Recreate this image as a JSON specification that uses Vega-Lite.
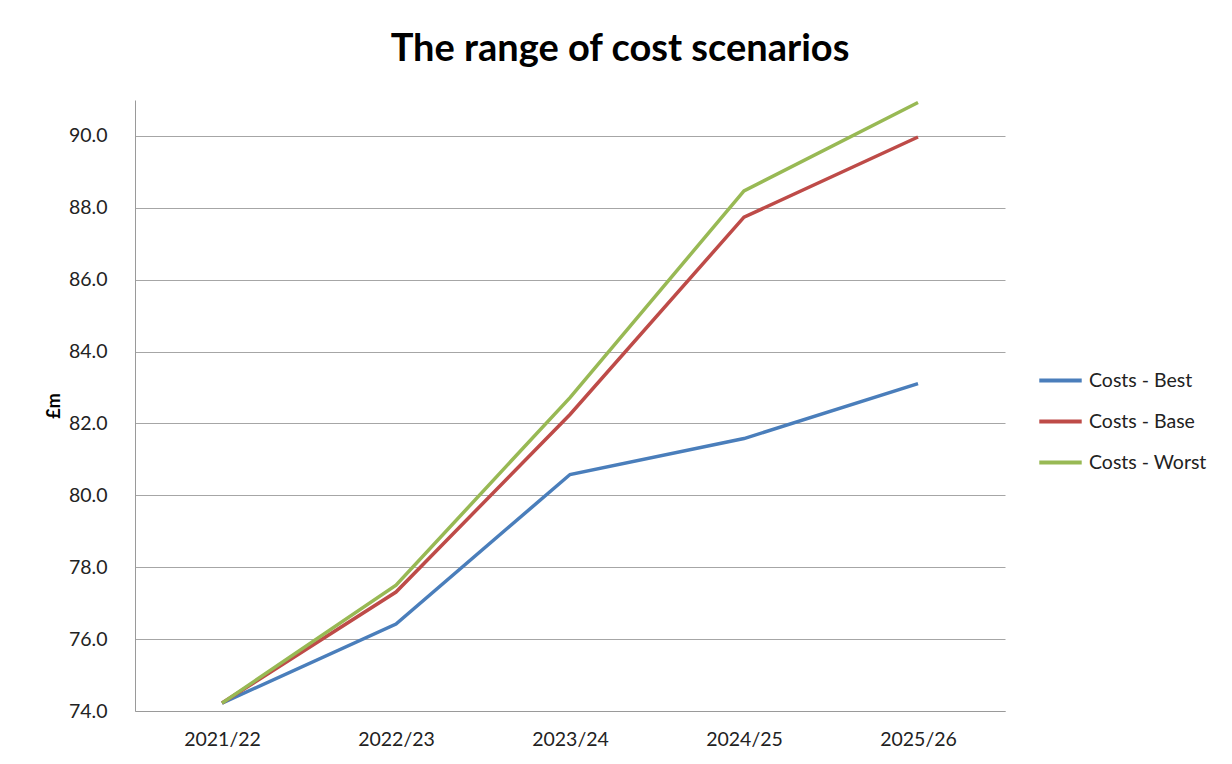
{
  "$schema": "https://vega.github.io/schema/vega-lite/v6.json",
  "width": 870,
  "height": 611,
  "autosize": {"type": "none"},
  "padding": {"left": 135, "top": 100, "right": 227, "bottom": 53},
  "background": "white",
  "title": {
    "text": "The range of cost scenarios",
    "font": "Lato",
    "fontSize": 38,
    "fontWeight": "bold",
    "color": "#000000",
    "anchor": "middle",
    "frame": "group",
    "dx": 50,
    "offset": 27
  },
  "data": {
    "values": [
      {"year": "2021/22", "series": "Costs - Best", "value": 74.22},
      {"year": "2022/23", "series": "Costs - Best", "value": 76.42},
      {"year": "2023/24", "series": "Costs - Best", "value": 80.58},
      {"year": "2024/25", "series": "Costs - Best", "value": 81.58},
      {"year": "2025/26", "series": "Costs - Best", "value": 83.11},
      {"year": "2021/22", "series": "Costs - Base", "value": 74.22},
      {"year": "2022/23", "series": "Costs - Base", "value": 77.31},
      {"year": "2023/24", "series": "Costs - Base", "value": 82.25},
      {"year": "2024/25", "series": "Costs - Base", "value": 87.74},
      {"year": "2025/26", "series": "Costs - Base", "value": 89.97},
      {"year": "2021/22", "series": "Costs - Worst", "value": 74.22},
      {"year": "2022/23", "series": "Costs - Worst", "value": 77.5},
      {"year": "2023/24", "series": "Costs - Worst", "value": 82.72},
      {"year": "2024/25", "series": "Costs - Worst", "value": 88.47},
      {"year": "2025/26", "series": "Costs - Worst", "value": 90.93}
    ]
  },
  "mark": {"type": "line", "strokeWidth": 3.5, "strokeJoin": "miter"},
  "encoding": {
    "x": {
      "field": "year",
      "type": "ordinal",
      "scale": {"type": "point", "padding": 0.5},
      "axis": {
        "title": null,
        "labelAngle": 0,
        "labelFont": "Lato",
        "labelFontSize": 19.5,
        "labelColor": "#222222",
        "labelPadding": 19,
        "ticks": false,
        "grid": false,
        "domainColor": "#9a9a9a",
        "domainWidth": 1
      }
    },
    "y": {
      "field": "value",
      "type": "quantitative",
      "scale": {"domain": [74, 91], "nice": false, "zero": false},
      "axis": {
        "title": "£m",
        "titleFont": "Lato",
        "titleFontSize": 18,
        "titleFontWeight": "bold",
        "titleColor": "#000000",
        "titlePadding": 5,
        "values": [74, 76, 78, 80, 82, 84, 86, 88, 90],
        "format": ".1f",
        "labelFont": "Lato",
        "labelFontSize": 19.5,
        "labelColor": "#222222",
        "labelPadding": 28,
        "ticks": false,
        "grid": true,
        "gridColor": "#a6a6a6",
        "gridWidth": 1,
        "domainColor": "#9a9a9a",
        "domainWidth": 1
      }
    },
    "color": {
      "field": "series",
      "type": "nominal",
      "sort": ["Costs - Best", "Costs - Base", "Costs - Worst"],
      "scale": {
        "domain": ["Costs - Best", "Costs - Base", "Costs - Worst"],
        "range": ["#4a7ebb", "#be4b48", "#98b954"]
      },
      "legend": {
        "title": null,
        "orient": "none",
        "legendX": 902,
        "legendY": 257,
        "symbolType": "stroke",
        "symbolSize": 1800,
        "symbolStrokeWidth": 4,
        "labelFont": "Lato",
        "labelFontSize": 19.5,
        "labelColor": "#222222",
        "labelOffset": 5,
        "rowPadding": 8
      }
    }
  },
  "config": {
    "view": {"stroke": null}
  }
}
